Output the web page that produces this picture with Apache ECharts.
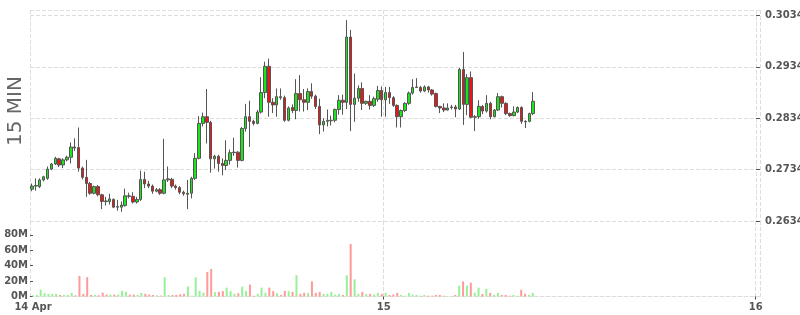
<!DOCTYPE html>
<html>
<head>
<meta charset="utf-8">
<script src="https://cdn.jsdelivr.net/npm/echarts@6/dist/echarts.min.js"></script>
<style>html,body{margin:0;padding:0;background:#fff}#c{width:800px;height:315px}</style>
</head>
<body>
<div id="c"></div>
<script>
// ---- data (15-minute bars, first bar opens 14 Apr 01:15 UTC) ----
const firstBarUTC = Date.UTC(2024, 3, 14, 1, 15);
const barMinutes = 15;

const open = [
0.2696,0.2702,0.2701,0.2714,0.2717,0.2735,0.2745,0.2755,0.2743,0.2753,
0.2758,0.2778,0.2777,0.2737,0.2719,0.2707,0.2688,0.2701,0.2685,0.2673,
0.2672,0.2676,0.2661,0.2661,0.2664,0.2683,0.2682,0.2671,0.2676,0.2715,
0.2706,0.2702,0.2692,0.2695,0.2688,0.2714,0.2715,0.2702,0.2699,0.2690,
0.2686,0.2688,0.2717,0.2756,0.2824,0.2837,0.2826,0.2755,0.2760,0.2746,
0.2742,0.2752,0.2767,0.2768,0.2752,0.2814,0.2837,0.2828,0.2824,0.2846,
0.2884,0.2935,0.2865,0.2860,0.2876,0.2874,0.2830,0.2855,0.2849,0.2882,
0.2870,0.2865,0.2886,0.2877,0.2857,0.2821,0.2828,0.2829,0.2830,0.2851,
0.2869,0.2865,0.2992,0.2861,0.2873,0.2892,0.2863,0.2867,0.2859,0.2871,
0.2888,0.2870,0.2884,0.2874,0.2859,0.2837,0.2849,0.2863,0.2883,0.2894,
0.2894,0.2887,0.2895,0.2889,0.2882,0.2857,0.2854,0.2850,0.2855,0.2856,
0.2852,0.2929,0.2861,0.2913,0.2836,0.2837,0.2857,0.2848,0.2863,0.2837,
0.2850,0.2876,0.2863,0.2843,0.2839,0.2846,0.2855,0.2828,0.2828,0.2843
];
const close = [
0.2702,0.2703,0.2714,0.2720,0.2735,0.2745,0.2756,0.2743,0.2753,0.2758,
0.2778,0.2776,0.2737,0.2719,0.2707,0.2688,0.2701,0.2685,0.2672,0.2672,
0.2677,0.2661,0.2662,0.2665,0.2683,0.2682,0.2671,0.2676,0.2715,0.2706,
0.2702,0.2692,0.2695,0.2688,0.2714,0.2716,0.2702,0.2699,0.2690,0.2687,
0.2688,0.2717,0.2756,0.2824,0.2837,0.2826,0.2755,0.2760,0.2746,0.2742,
0.2752,0.2767,0.2768,0.2752,0.2814,0.2837,0.2828,0.2824,0.2846,0.2884,
0.2935,0.2865,0.2860,0.2876,0.2874,0.2830,0.2854,0.2849,0.2882,0.2870,
0.2865,0.2886,0.2877,0.2857,0.2821,0.2828,0.2830,0.2830,0.2851,0.2869,
0.2865,0.2992,0.2861,0.2873,0.2892,0.2863,0.2867,0.2859,0.2872,0.2888,
0.2870,0.2884,0.2874,0.2859,0.2837,0.2849,0.2863,0.2883,0.2894,0.2895,
0.2887,0.2895,0.2889,0.2881,0.2857,0.2854,0.2850,0.2854,0.2856,0.2852,
0.2929,0.2861,0.2913,0.2836,0.2837,0.2857,0.2848,0.2863,0.2837,0.2850,
0.2876,0.2863,0.2843,0.2839,0.2846,0.2855,0.2828,0.2827,0.2843,0.2867
];
const low = [
0.2692,0.2693,0.2698,0.2711,0.2714,0.2733,0.2743,0.2739,0.2737,0.2750,
0.2746,0.2770,0.2730,0.2715,0.2681,0.2685,0.2686,0.2682,0.2657,0.2664,
0.2666,0.2659,0.2654,0.2652,0.2662,0.2678,0.2668,0.2668,0.2673,0.2698,
0.2698,0.2687,0.2690,0.2685,0.2686,0.2710,0.2698,0.2695,0.2686,0.2683,
0.2657,0.2678,0.2714,0.2754,0.2818,0.2785,0.2728,0.2736,0.2730,0.2723,
0.2733,0.2744,0.2761,0.2738,0.2750,0.2808,0.2778,0.2820,0.2822,0.2843,
0.2873,0.2837,0.2844,0.2837,0.2870,0.2827,0.2828,0.2844,0.2832,0.2847,
0.2847,0.2850,0.2872,0.2852,0.2803,0.2808,0.2818,0.2820,0.2826,0.2841,
0.2841,0.2852,0.2809,0.2827,0.2866,0.2850,0.2860,0.2851,0.2856,0.2866,
0.2837,0.2837,0.2862,0.2856,0.2816,0.2816,0.2846,0.2860,0.2880,0.2893,
0.2884,0.2885,0.2884,0.2878,0.2855,0.2844,0.2846,0.2849,0.2851,0.2836,
0.2850,0.2821,0.2840,0.2834,0.2809,0.2833,0.2842,0.2845,0.2832,0.2836,
0.2848,0.2855,0.2840,0.2837,0.2838,0.2844,0.2823,0.2815,0.2826,0.2840
];
const high = [
0.2707,0.2717,0.2717,0.2722,0.2740,0.2747,0.2759,0.2757,0.2756,0.2761,
0.2787,0.2795,0.2816,0.2740,0.2753,0.2710,0.2703,0.2704,0.2687,0.2681,
0.2687,0.2678,0.2675,0.2672,0.2697,0.2689,0.2690,0.2681,0.2732,0.2730,
0.2712,0.2705,0.2698,0.2698,0.2794,0.2740,0.2718,0.2705,0.2702,0.2693,
0.2714,0.2720,0.2766,0.2838,0.2845,0.2891,0.2829,0.2763,0.2763,0.2756,
0.2791,0.2773,0.2796,0.2770,0.2817,0.2862,0.2868,0.2831,0.2850,0.2914,
0.2944,0.2950,0.2873,0.2892,0.2892,0.2878,0.2857,0.2861,0.2910,0.2918,
0.2891,0.2892,0.2902,0.2880,0.2872,0.2834,0.2851,0.2839,0.2853,0.2879,
0.2880,0.3025,0.3006,0.2921,0.2898,0.2904,0.2868,0.2879,0.2876,0.2897,
0.2896,0.2895,0.2895,0.2877,0.2861,0.2851,0.2865,0.2886,0.2910,0.2912,
0.2897,0.2898,0.2897,0.2891,0.2884,0.2858,0.2863,0.2863,0.2860,0.2860,
0.2932,0.2963,0.2920,0.2925,0.2840,0.2869,0.2860,0.2879,0.2866,0.2852,
0.2883,0.2878,0.2865,0.2845,0.2857,0.2857,0.2857,0.2830,0.2845,0.2885
];
// volume in millions
const volumeM = [
1.5,2,8.8,4.3,3.4,3.4,3.4,2,2,2,
4.7,1.5,26.8,3.4,25,2,2,1.6,5,2.5,
2.5,2.5,2.5,7.4,6,2.5,2.5,2,4.7,3.4,
2.5,2,1.5,1.2,25,2,2,2,3,3.4,
13,1,25,7.4,5,31.7,35.8,5.6,6,7,
11.5,7,3.4,4.3,12.8,7,15.5,1,3.4,11.5,
4.7,11.5,7,4.3,2,7.4,7,6,27.7,3.4,
4.7,4.7,19.6,4.7,6,3.4,3.4,6,2.5,3.4,
2,27.7,68,22.3,3.4,6,3.4,3.4,2.5,4.7,
3.4,4.7,2,2.5,4.7,2,1,4.7,2.5,2,
1,2,1,1,2,2,1,0.5,0.5,2,
14,19.6,14,18,4.7,11.5,3.4,10,4.7,2,
4.7,2,2,1,2,1,8.8,3.4,2,4.7
];
const priceMin = 0.2634, priceMax = 0.30447, priceStep = 0.01;
const volMax = 98, volStep = 20;
const xMin = Date.UTC(2024, 3, 14, 1, 15);
const xMax = Date.UTC(2024, 3, 16, 0, 13);
const startLabel = '14 Apr';
const titleText = '15 MIN';

// ---- build ----
const barMs = barMinutes * 60000;
const half = barMs / 2;
const times = open.map((_, i) => firstBarUTC + i * barMs);
const UP = '#19e619', DOWN = '#ee1515', BORDER = '#555555';
const UP_VOL = '#98f098', DOWN_VOL = '#ff9a9a';
const candleData = times.map((t, i) => [t + half, open[i], close[i], low[i], high[i]]);
const volData = times.map((t, i) => ({
  value: [t + half, volumeM[i]],
  itemStyle: { color: close[i] >= open[i] ? UP_VOL : DOWN_VOL }
}));

const dayMs = 86400000;
const labelFont = { color: '#555', fontWeight: 'bold', fontSize: 10, fontFamily: 'DejaVu Sans, sans-serif' };
const grid = { color: '#dddddd', type: 'dashed', width: 1 };
function xLabel(v) {
  const t = (typeof v === 'object' && v !== null && 'value' in v) ? v.value : +v;
  const d = new Date(t);
  if (d.getUTCHours() === 0 && d.getUTCMinutes() === 0) return String(d.getUTCDate());
  return '';
}

const chart = echarts.init(document.getElementById('c'), null, { renderer: 'canvas' });
chart.setOption({
  animation: false,
  useUTC: true,
  backgroundColor: '#ffffff',
  grid: [
    { left: 30, right: 40, top: 10, height: 211, containLabel: false, outerBoundsMode: 'none' },
    { left: 30, right: 40, top: 221, height: 75.5, containLabel: false, outerBoundsMode: 'none' }
  ],
  xAxis: [
    { type: 'time', gridIndex: 0, min: xMin, max: xMax, minInterval: dayMs, maxInterval: dayMs,
      axisLine: { show: false }, axisTick: { show: false }, axisLabel: { show: false },
      splitLine: { show: true, lineStyle: grid } },
    { type: 'time', gridIndex: 1, min: xMin, max: xMax, minInterval: dayMs, maxInterval: dayMs,
      name: startLabel, nameLocation: 'start', nameGap: -3,
      nameTextStyle: Object.assign({ align: 'center', verticalAlign: 'top', padding: [6, 0, 0, 0] }, labelFont),
      axisLine: { show: true, lineStyle: grid },
      axisTick: { show: true, length: 3, lineStyle: { color: '#444' } },
      axisLabel: Object.assign({ formatter: xLabel, margin: 6, hideOverlap: false }, labelFont),
      splitLine: { show: true, lineStyle: grid } }
  ],
  yAxis: [
    { type: 'value', gridIndex: 0, position: 'right', min: priceMin, max: priceMax, interval: priceStep,
      axisLine: { show: false },
      axisTick: { show: true, inside: true, length: 4, lineStyle: { color: '#555' } },
      axisLabel: Object.assign({}, labelFont, { showMaxLabel: false, showMinLabel: true, margin: 5, formatter: v => v.toFixed(4) }),
      splitLine: { show: true, lineStyle: grid } },
    { type: 'value', gridIndex: 1, position: 'left', min: 0, max: volMax, interval: volStep,
      axisLine: { show: false },
      axisTick: { show: true, inside: true, length: 3, lineStyle: { color: '#555' } },
      axisLabel: Object.assign({ showMaxLabel: false, margin: 2, formatter: v => v + 'M' }, labelFont),
      splitLine: { show: false } }
  ],
  graphic: [{
    type: 'text', x: 16, y: 111, rotation: Math.PI / 2,
    style: { text: titleText, fill: '#666', font: '20px "DejaVu Sans", sans-serif', align: 'center', verticalAlign: 'middle' }
  }],
  series: [
    { type: 'candlestick', xAxisIndex: 0, yAxisIndex: 0, data: candleData, barWidth: 3,
      itemStyle: { color: UP, color0: DOWN, borderColor: BORDER, borderColor0: BORDER, borderWidth: 1 } },
    { type: 'bar', xAxisIndex: 1, yAxisIndex: 1, data: volData, barWidth: 2 }
  ]
});
</script>
</body>
</html>
